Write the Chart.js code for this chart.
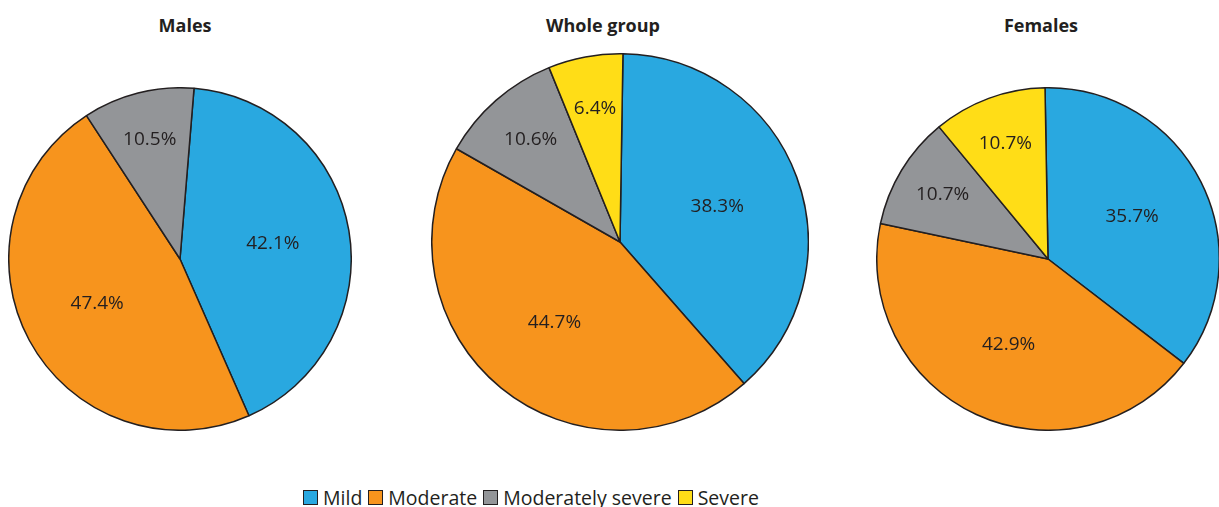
<!DOCTYPE html>
<html><head><meta charset="utf-8">
<script src="https://cdn.jsdelivr.net/npm/chart.js@4/dist/chart.umd.min.js"></script>
<style>
html,body{margin:0;padding:0;background:#fff;}
#wrap{position:relative;width:1219px;height:507px;overflow:hidden;font-family:"Open Sans",sans-serif;color:#231F20;}
.box{position:absolute;}
.title{position:absolute;font-weight:bold;font-size:18px;transform:translateX(-50%);white-space:nowrap;top:13px;}
#legend{position:absolute;left:303px;top:484px;display:flex;align-items:center;font-size:19.5px;white-space:nowrap;}
#legend span.sw{display:inline-block;width:13px;height:13px;border:1px solid #231F20;margin-right:5px;}
#legend span.it{display:inline-flex;align-items:center;margin-right:6px;}
</style></head>
<body><div id="wrap">
<div class="title" style="left:185px">Males</div>
<div class="title" style="left:603px">Whole group</div>
<div class="title" style="left:1041px">Females</div>
<div class="box" style="left:8px;top:87px;width:344px;height:344px"><canvas id="c1"></canvas></div>
<div class="box" style="left:431px;top:53px;width:378px;height:378px"><canvas id="c2"></canvas></div>
<div class="box" style="left:876px;top:87px;width:344px;height:344px"><canvas id="c3"></canvas></div>
<div id="legend"></div>
</div>
<script>
const categories = ["Mild", "Moderate", "Moderately severe", "Severe"];
const colors = ["#29A8E0", "#F7941D", "#939598", "#FFDD17"];
const malesValues = [42.1, 47.4, 10.5, 0];
const wholeValues = [38.3, 44.7, 10.6, 6.4];
const femalesValues = [35.7, 42.9, 10.7, 10.7];
const rotations = [4.7, 0.9, -1.0];

const labelPlugin = {
  id: 'sliceLabels',
  afterDatasetsDraw(chart) {
    const ctx = chart.ctx;
    const meta = chart.getDatasetMeta(0);
    const vals = chart.data.datasets[0].data;
    ctx.save();
    ctx.font = '19px "Open Sans", sans-serif';
    ctx.fillStyle = '#231F20';
    ctx.textAlign = 'center';
    ctx.textBaseline = 'middle';
    meta.data.forEach((arc, i) => {
      if (!vals[i]) return;
      const p = arc.getProps(['x','y','startAngle','endAngle','outerRadius'], true);
      const mid = (p.startAngle + p.endAngle) / 2;
      const f = vals[i] < 15 ? 0.72 : 0.55;
      const r = p.outerRadius * f;
      ctx.fillText(vals[i].toFixed(1) + '%', p.x + Math.cos(mid) * r, p.y + Math.sin(mid) * r);
    });
    ctx.restore();
  }
};

function makePie(id, values, rot) {
  new Chart(document.getElementById(id), {
    type: 'pie',
    data: { labels: categories, datasets: [{ data: values, backgroundColor: colors, borderColor: '#231F20', borderWidth: 1.5 }] },
    options: {
      responsive: true, maintainAspectRatio: false, animation: false,
      rotation: rot,
      layout: { padding: 0 },
      plugins: { legend: { display: false }, tooltip: { enabled: false } }
    },
    plugins: [labelPlugin]
  });
}
makePie('c1', malesValues, rotations[0]);
makePie('c2', wholeValues, rotations[1]);
makePie('c3', femalesValues, rotations[2]);

const lg = document.getElementById('legend');
categories.forEach((c, i) => {
  const it = document.createElement('span'); it.className = 'it';
  const sw = document.createElement('span'); sw.className = 'sw'; sw.style.background = colors[i];
  it.appendChild(sw); it.appendChild(document.createTextNode(c));
  lg.appendChild(it);
});
</script>
</body></html>
